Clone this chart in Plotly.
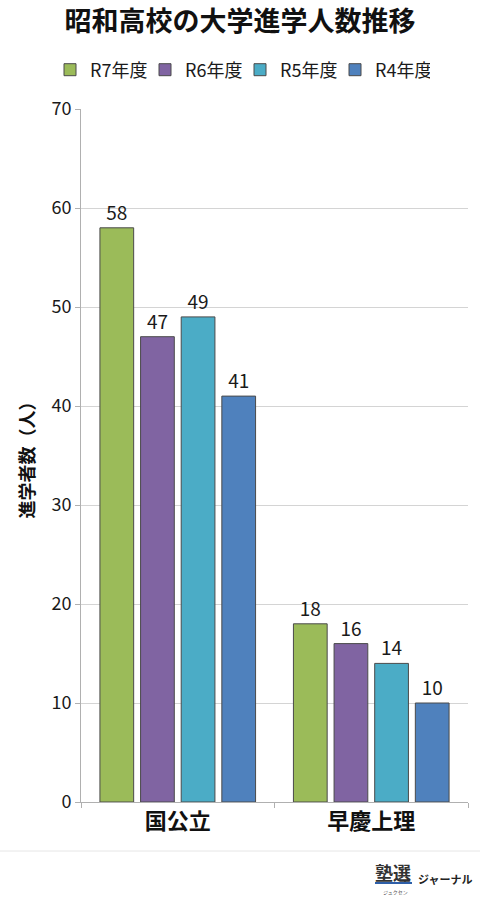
import plotly.graph_objects as go

categories = ["国公立", "早慶上理"]
series_names = ["R7年度", "R6年度", "R5年度", "R4年度"]
r7 = [58, 18]
r6 = [47, 16]
r5 = [49, 14]
r4 = [41, 10]
series_values = [r7, r6, r5, r4]
colors = ["#9BBB59", "#8064A2", "#4BACC6", "#4F81BD"]
y_ticks = [0, 10, 20, 30, 40, 50, 60, 70]

FONT = "Noto Sans CJK JP"

fig = go.Figure()
for name, vals, c in zip(series_names, series_values, colors):
    fig.add_trace(go.Bar(
        name=name, x=categories, y=vals,
        marker=dict(color=c, line=dict(color="#4a4a4a", width=1)),
        text=[str(v) for v in vals], textposition="outside",
        textfont=dict(size=19, color="#1a1a1a", family=FONT),
        cliponaxis=False,
    ))

fig.update_layout(
    width=480, height=900,
    margin=dict(l=81, r=12, t=109, b=98, autoexpand=False),
    paper_bgcolor="white", plot_bgcolor="white",
    barmode="group", bargap=0.16, bargroupgap=0.17,
    font=dict(family=FONT, color="#1a1a1a"),
    title=dict(text="<b>昭和高校の大学進学人数推移</b>", x=0.5, xref="container",
               xanchor="center", y=0.976, yref="container", yanchor="middle",
               font=dict(size=27, color="#111111", family=FONT)),
    legend=dict(orientation="h", x=(50 - 81) / 387, xref="paper", xanchor="left",
                y=(802 - 70) / 693, yref="paper", yanchor="middle",
                font=dict(size=18, color="#1a1a1a", family=FONT),
                itemwidth=30, tracegroupgap=0,
                entrywidth=50, entrywidthmode="pixels"),
    showlegend=True,
)

fig.update_yaxes(
    range=[0, 70], tickvals=y_ticks, ticks="outside", ticklen=5,
    tickcolor="#b0b0b0", showline=True, linecolor="#b0b0b0", linewidth=1,
    showgrid=True, gridcolor="#d4d4d4", gridwidth=1, zeroline=False,
    tickfont=dict(size=18, color="#1a1a1a", family=FONT),
    title=dict(text="<b>進学者数（人）</b>", font=dict(size=18, color="#111111", family=FONT),
               standoff=12),
)
fig.update_xaxes(
    showline=True, linecolor="#b0b0b0", linewidth=1,
    ticks="outside", ticklen=5, tickcolor="#b0b0b0", tickson="boundaries",
    tickfont=dict(size=22, color="#111111", family=FONT),
    tickprefix="<b>", ticksuffix="</b>",
)

# footer divider
fig.add_shape(type="line", xref="paper", yref="paper", x0=-81/387, x1=1 + 12/387,
              y0=-49/693, y1=-49/693, line=dict(color="#e6e6e6", width=1))

# logo
fig.add_annotation(text="<b>塾選</b>", xref="paper", yref="paper",
                   x=(393 - 81) / 387, y=-(872 - 802) / 693, showarrow=False,
                   font=dict(size=18, color="#333333", family=FONT),
                   xanchor="center", yanchor="middle")
fig.add_shape(type="line", xref="paper", yref="paper",
              x0=(375 - 81) / 387, x1=(412 - 81) / 387,
              y0=-(883 - 802) / 693, y1=-(883 - 802) / 693,
              line=dict(color="#2e5fa8", width=2))
fig.add_annotation(text="ジュクセン", xref="paper", yref="paper",
                   x=(395 - 81) / 387, y=-(892 - 802) / 693, showarrow=False,
                   font=dict(size=5, color="#555555", family=FONT),
                   xanchor="center", yanchor="middle")
fig.add_annotation(text="<b>ジャーナル</b>", xref="paper", yref="paper",
                   x=(416 - 81) / 387, y=-(879 - 802) / 693, showarrow=False,
                   font=dict(size=11, color="#222222", family=FONT),
                   xanchor="left", yanchor="middle")

fig.write_html("out.html")
